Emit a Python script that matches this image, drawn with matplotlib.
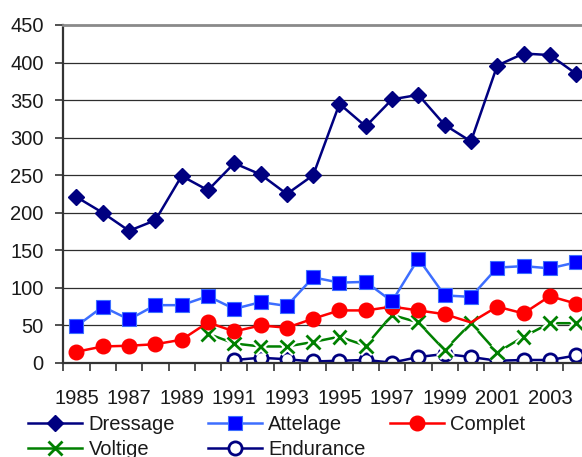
import numpy as np
import matplotlib
matplotlib.use("Agg")
import matplotlib.pyplot as plt
import matplotlib.patheffects as pe
from matplotlib.lines import Line2D
from matplotlib.ticker import MultipleLocator, FixedLocator

years = list(range(1985, 2005))
dressage = [221, 200, 176, 190, 249, 230, 266, 251, 225, 250,
            345, 315, 351, 357, 317, 295, 396, 412, 410, 385]
attelage = [49, 75, 58, 77, 77, 89, 72, 81, 76, 114,
            107, 108, 82, 139, 90, 88, 127, 129, 126, 134]
complet = [15, 22, 23, 25, 31, 54, 42, 50, 47, 59,
           70, 70, 75, 70, 65, 54, 75, 66, 89, 79]
voltige = [np.nan] * 5 + [39, 26, 22, 22, 28, 35, 23, 64, 54, 17,
                          53, 14, 35, 53, 53]
endurance = [np.nan] * 6 + [4, 7, 5, 2, 3, 4, 0.5, 8, 12, 8,
                            3, 4, 4, 10]
tick_years = [str(y) for y in range(1985, 2005, 2)]

plt.rcParams["font.family"] = ["Liberation Sans", "DejaVu Sans"]
FS = 14.5

fig = plt.figure(figsize=(5.82, 4.57), dpi=100)
# plot area runs past the right edge of the canvas
ax = fig.add_axes([63.3 / 582, 94 / 457, 526 / 582, 338 / 457])

x = np.arange(len(years))

ax.plot(x, dressage, color="#000080", lw=1.8, marker="D", ms=8,
        mfc="#000080", mec="#000080", label="Dressage", zorder=5)
ax.plot(x, attelage, color="#3D6EFF", lw=1.8, marker="s", ms=10.5,
        mfc="#0000FF", mec="#3D6EFF", mew=0.8, label="Attelage", zorder=4)
skip = [i for i in range(len(years)) if years[i] != 2000]
ax.plot(x, complet, color="#FF0000", lw=1.8, marker="o", ms=10.5,
        mfc="#FF0000", mec="#FF0000", markevery=skip, label="Complet",
        zorder=3)
ax.plot(x, voltige, color="#008000", lw=1.8, zorder=2)
ax.plot(x, voltige, ls="none", marker="x", ms=10, mew=2, mec="#008000",
        zorder=2.5,
        path_effects=[pe.withStroke(linewidth=5, foreground="white")])
ax.plot(x, endurance, color="#000080", lw=1.8, marker="o", ms=9.5,
        mfc="white", mec="#000080", mew=2, label="Endurance", zorder=2)

ax.set_xlim(-0.5, len(years) - 0.5)
ax.set_ylim(0, 450)

ax.yaxis.set_major_locator(MultipleLocator(50))
ax.xaxis.set_major_locator(FixedLocator(x[::2]))
ax.set_xticklabels(tick_years)
ax.xaxis.set_minor_locator(FixedLocator(np.arange(-0.5, len(years), 1.0)))
ax.tick_params(axis="x", which="major", length=0, pad=18.5, labelsize=FS,
               colors="#1a1a1a")
ax.tick_params(axis="x", which="minor", length=6, width=1.2,
               color="#333333", direction="out")
ax.tick_params(axis="y", length=6, width=1.2, color="#333333", pad=8,
               labelsize=FS, labelcolor="#1a1a1a")

for v in range(50, 450, 50):
    ax.axhline(v, color="#2e2e2e", lw=0.9, zorder=0)

for side in ["left", "bottom"]:
    ax.spines[side].set_color("#333333")
    ax.spines[side].set_linewidth(1.6)
ax.spines["top"].set_color("#8a8a8a")
ax.spines["top"].set_linewidth(2)
ax.spines["right"].set_visible(False)

# legend handles: voltige drawn as line with a cross on top
vh = Line2D([], [], color="#008000", lw=1.8, marker="x", ms=10, mew=2)
h, _ = ax.get_legend_handles_labels()
columns = [
    ([h[0], vh], ["Dressage", "Voltige"], 28),
    ([h[1], h[3]], ["Attelage", "Endurance"], 208),
    ([h[2]], ["Complet"], 390),
]
for hs, ls, left in columns:
    leg = fig.legend(hs, ls, loc="upper left",
                     bbox_to_anchor=(left / 582, 1 - 415 / 457),
                     frameon=False, fontsize=FS, borderpad=0,
                     borderaxespad=0, handlelength=2.7, handletextpad=0.3,
                     labelspacing=0.28)
    for t in leg.get_texts():
        t.set_color("#1a1a1a")

fig.savefig("out.png", dpi=100)
